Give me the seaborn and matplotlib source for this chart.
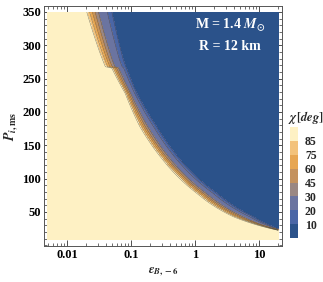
import numpy as np
import matplotlib
matplotlib.use("Agg")
import matplotlib.pyplot as plt
from matplotlib.colors import ListedColormap, BoundaryNorm
from matplotlib.ticker import LogLocator, MultipleLocator, NullFormatter, NullLocator
import seaborn as sns

sns.set_theme(style="ticks")
plt.rcParams['font.family'] = ['Liberation Serif', 'DejaVu Serif']
plt.rcParams['mathtext.fontset'] = 'stix'
plt.rcParams['font.weight'] = 'bold'

# chi levels (deg) and band colours (low -> high)
levels = [0, 10, 20, 30, 45, 60, 75, 85, 90]
band_colors = ['#2b528a', '#4a66a6', '#6b74a0', '#9a8783', '#c4925f',
               '#e7a653', '#f3c27b', '#fef1c4']
cbar_labels = ['10', '20', '30', '45', '60', '75', '85']

# read-off boundaries: outer edge of dark-blue region (chi = 10), log10(eps)
blue_P = [8, 25.5, 43, 78, 128, 178, 228, 278, 350]
blue_logeps = [2.0, 1.28, 0.91, 0.34, -0.23, -0.60, -0.91, -1.12, -1.30]
# edge of pale-yellow region (chi = 85), log10(eps)
yellow_P = [8, 23, 43, 78, 128, 178, 228, 266, 268, 285, 350]
yellow_logeps = [1.95, 1.28, 0.60, 0.03, -0.50, -0.86, -1.09, -1.30, -1.40, -1.47, -1.69]
# relative position of each level between the two edges
band_frac = [-0.4, 0.0, 0.11, 0.22, 0.33, 0.46, 0.82, 1.0, 1.4]
band_chi = [89.9, 85, 75, 60, 45, 30, 20, 10, 0.1]

eps_range = [0.005, 20]
P_range = [8, 350]

le = np.linspace(np.log10(eps_range[0]), np.log10(eps_range[1]), 800)
Pg = np.linspace(P_range[0], P_range[1], 1000)
LE, PP = np.meshgrid(le, Pg)
lo = np.interp(np.log10(PP), np.log10(yellow_P), yellow_logeps)
hi = np.interp(np.log10(PP), np.log10(blue_P), blue_logeps)
t = (LE - lo) / (hi - lo)
chi = np.interp(t, band_frac, band_chi)

fig = plt.figure(figsize=(3.23, 2.82), dpi=100)
ax = fig.add_axes([44/323, 1-246/282, 238/323, 240/282])
cmap = ListedColormap(band_colors)
norm = BoundaryNorm(levels, cmap.N)
ax.contourf(10**LE, PP, chi, levels=levels, cmap=cmap, norm=norm)
ax.contour(10**LE, PP, chi, levels=levels[1:-1], colors='#3a3428',
           linewidths=0.35, alpha=0.6)

ax.set_xscale('log')
ax.set_xlim(10**-2.36, 10**1.36)
ax.set_ylim(-1, 359)
ax.set_xticks([0.01, 0.1, 1, 10])
ax.set_xticklabels(['0.01', '0.1', '1', '10'])
ax.xaxis.set_minor_locator(LogLocator(base=10, subs=np.arange(2, 10)))
ax.xaxis.set_minor_formatter(NullFormatter())
ax.set_yticks([50, 100, 150, 200, 250, 300, 350])
ax.yaxis.set_minor_locator(MultipleLocator(10))
ax.tick_params(which='both', direction='in', top=True, right=True,
               labelsize=9, colors='#333333', labelcolor='black', pad=2)
ax.tick_params(which='major', length=4, width=0.6)
ax.tick_params(which='minor', length=2, width=0.5)
for lab in ax.get_xticklabels() + ax.get_yticklabels():
    lab.set_fontweight('bold')
for s in ax.spines.values():
    s.set_color('#555555')
    s.set_linewidth(0.7)

ax.set_xlabel(r'$\epsilon_{B,-6}$', fontsize=9, labelpad=3)
ax.set_ylabel(r'$P_{i,\mathrm{ms}}$', fontsize=10, labelpad=2)

ax.text(0.78, 0.92, r'M = 1.4 $M_{\odot}$', transform=ax.transAxes,
        color='white', fontsize=10, fontweight='bold', ha='center', va='center')
ax.text(0.78, 0.83, 'R = 12 km', transform=ax.transAxes,
        color='white', fontsize=10, fontweight='bold', ha='center', va='center')

cax = fig.add_axes([290/323, 1-238/282, 8/323, 111/282])
sm = plt.cm.ScalarMappable(cmap=cmap, norm=norm)
cb = fig.colorbar(sm, cax=cax, spacing='uniform', boundaries=levels)
cb.set_ticks(levels[1:-1])
cb.set_ticklabels(cbar_labels)
cb.outline.set_visible(False)
cax.yaxis.set_minor_locator(NullLocator())
cax.tick_params(which='both', length=0, labelsize=8.5, pad=5)
for lab in cax.get_yticklabels():
    lab.set_fontweight('bold')
fig.text(288/323, 1-118/282, r'$\chi\,[\mathit{deg}]$', fontsize=9, va='center')

fig.savefig('out.png', dpi=100)
